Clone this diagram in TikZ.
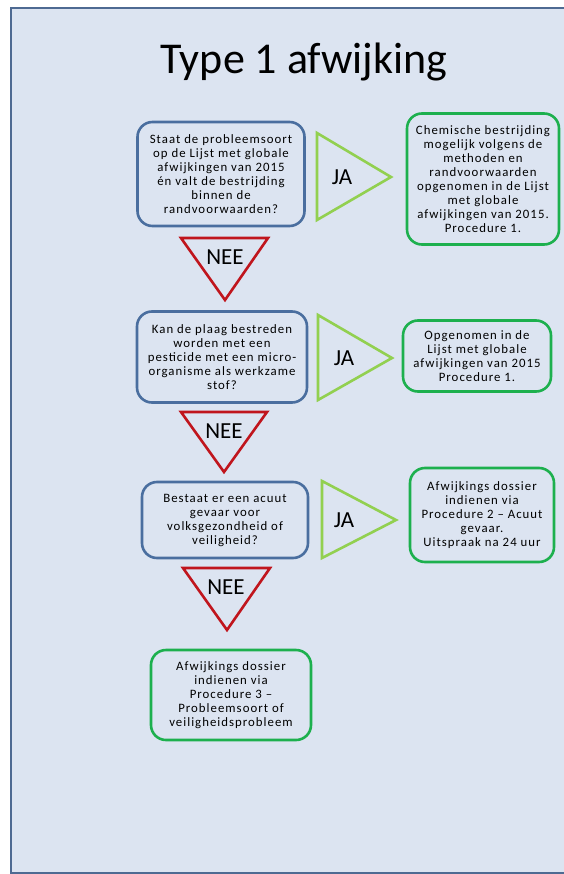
\documentclass[tikz,border=0pt]{standalone}
\usepackage{fontspec}
\setmainfont{Carlito}[LetterSpace=8]
\newfontfamily\titlefont{Carlito}
\usetikzlibrary{positioning}

\definecolor{panelfill}{HTML}{DCE4F1}
\definecolor{panelline}{HTML}{4E6A92}
\definecolor{vraagblauw}{HTML}{4A6E9F}
\definecolor{jagroen}{HTML}{92D050}
\definecolor{uitgroen}{HTML}{1DB04E}
\definecolor{neerood}{HTML}{C0151D}

\tikzset{
	vraag/.style={draw=vraagblauw, line width=2.6pt, rounded corners=15pt, fill=panelfill, align=center, inner sep=1pt, text=black, font=\fontsize{12.8}{14}\selectfont},
	uitkomst/.style={draw=uitgroen, line width=2.6pt, rounded corners=15pt, fill=panelfill, align=center, inner sep=1pt, text=black, font=\fontsize{12.8}{14}\selectfont},
	jatekst/.style={font=\titlefont\fontsize{23}{23}\selectfont},
	jadriehoek/.style={draw=jagroen, line width=2.6pt, line join=miter},
	needriehoek/.style={draw=neerood, line width=2.6pt, line join=miter}
}

\begin{document}
\begin{tikzpicture}[x=1pt, y=-1pt]

	\useasboundingbox (0,0) rectangle (563,874);
	%background panel
	\filldraw [fill=panelfill, draw=panelline, line width=2pt] (11,8) rectangle (580,873);

	\node [font=\titlefont\fontsize{44}{44}\selectfont, anchor=base] (title) at (304,74) {Type 1 afwijking};

%questions
	\node [vraag, minimum width=167, minimum height=104] (q1) at (221,174) {Staat de probleemsoort\\op de Lijst met globale\\afwijkingen van 2015\\én valt de bestrijding\\binnen de\\randvoorwaarden?};
	\node [vraag, minimum width=170, minimum height=91] (q2) at (222,357) {Kan de plaag bestreden\\worden met een\\pesticide met een micro-\\organisme als werkzame\\stof?};
	\node [vraag, minimum width=166, minimum height=76] (q3) at (225,520) {Bestaat er een acuut\\gevaar voor\\volksgezondheid of\\veiligheid?};

%outcomes
	\node [uitkomst, minimum width=152, minimum height=131] (r1) at (483,179) {Chemische bestrijding\\mogelijk volgens de\\methoden en\\randvoorwaarden\\opgenomen in de Lijst\\met globale\\afwijkingen van 2015.\\Procedure 1.};
	\node [uitkomst, minimum width=148, minimum height=71] (r2) at (477,356) {Opgenomen in de\\Lijst met globale\\afwijkingen van 2015\\Procedure 1.};
	\node [uitkomst, minimum width=144, minimum height=94] (r3) at (482,515) {Afwijkings dossier\\indienen via\\Procedure 2 -- Acuut\\gevaar.\\Uitspraak na 24 uur};
	\node [uitkomst, minimum width=160, minimum height=90] (r4) at (231,695) {Afwijkings dossier\\indienen via\\Procedure 3 --\\Probleemsoort of\\veiligheidsprobleem};

%JA triangles
	\node [jatekst] (ja1) at (342,177) {JA};
	\draw [jadriehoek] (317,133) -- (391,177) -- (317,220) -- cycle;
	\node [jatekst] (ja2) at (344,358) {JA};
	\draw [jadriehoek] (318,315) -- (392,358) -- (318,400) -- cycle;
	\node [jatekst] (ja3) at (344,520) {JA};
	\draw [jadriehoek] (322,481) -- (396,520) -- (322,558) -- cycle;

%NEE triangles
	\node [jatekst] (nee1) at (225,257) {NEE};
	\draw [needriehoek] (181,238) -- (268,238) -- (225,300) -- cycle;
	\node [jatekst] (nee2) at (224,431) {NEE};
	\draw [needriehoek] (181,412) -- (267,412) -- (224,472) -- cycle;
	\node [jatekst] (nee3) at (226,587) {NEE};
	\draw [needriehoek] (183,568) -- (270,568) -- (227,630) -- cycle;

\end{tikzpicture}
\end{document}
